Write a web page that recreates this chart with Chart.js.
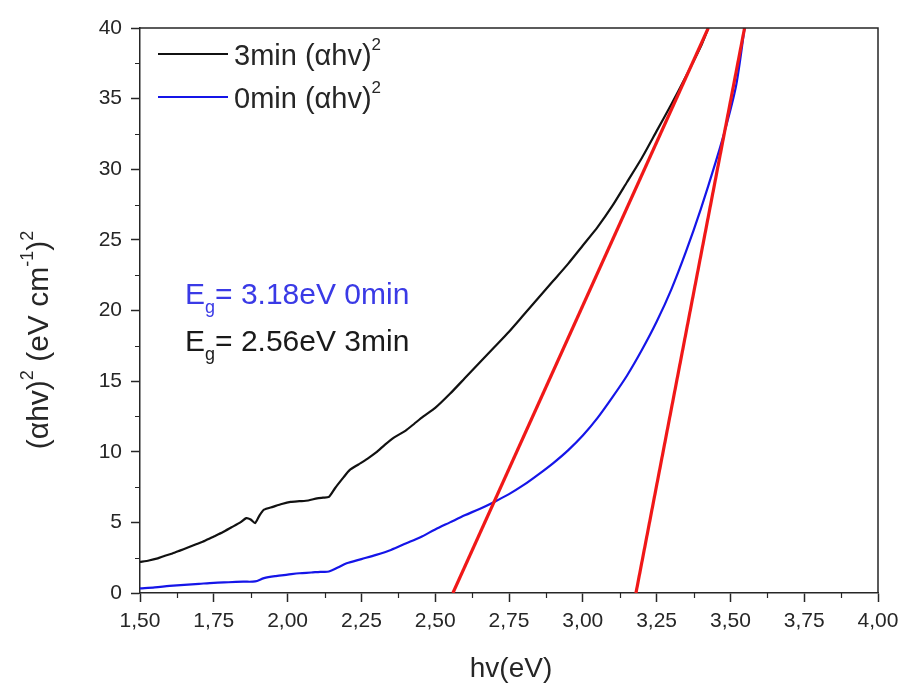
<!DOCTYPE html>
<html>
<head>
<meta charset="utf-8">
<script src="https://cdn.jsdelivr.net/npm/chart.js@4"></script>
<style>
html,body{margin:0;padding:0;background:#fff;}
canvas{display:block;}
</style>
</head>
<body>
<canvas id="c" width="906" height="687"></canvas>
<script>
// ---- data ----
const hv3min = [1.50,1.53,1.56,1.58,1.61,1.635,1.66,1.69,1.72,1.75,1.78,1.81,1.84,1.86,1.875,1.89,1.905,1.92,1.95,1.98,2.01,2.04,2.07,2.10,2.12,2.14,2.16,2.19,2.21,2.24,2.27,2.30,2.33,2.36,2.40,2.43,2.46,2.50,2.55,2.60,2.65,2.70,2.75,2.80,2.85,2.90,2.95,3.00,3.05,3.10,3.15,3.20,3.25,3.30,3.35,3.40,3.425];
const ahv3min = [2.2,2.3,2.45,2.6,2.8,3.0,3.2,3.45,3.7,4.0,4.3,4.65,5.0,5.3,5.2,4.95,5.5,5.9,6.1,6.3,6.45,6.5,6.55,6.7,6.75,6.8,7.4,8.2,8.7,9.1,9.5,9.95,10.5,11.0,11.5,12.0,12.5,13.1,14.1,15.2,16.3,17.4,18.5,19.7,20.9,22.1,23.3,24.6,25.9,27.4,29.1,30.8,32.7,34.6,36.6,38.7,40.0];

const hv0min = [1.50,1.55,1.60,1.65,1.70,1.75,1.80,1.85,1.89,1.92,1.96,2.00,2.04,2.08,2.11,2.14,2.17,2.20,2.25,2.30,2.35,2.40,2.45,2.50,2.55,2.60,2.65,2.70,2.75,2.80,2.85,2.90,2.95,3.00,3.05,3.10,3.15,3.20,3.25,3.30,3.35,3.40,3.45,3.49,3.52,3.548];
const ahv0min = [0.33,0.4,0.5,0.58,0.65,0.72,0.76,0.8,0.82,1.05,1.2,1.3,1.4,1.45,1.5,1.52,1.8,2.1,2.4,2.7,3.05,3.5,3.95,4.5,5.0,5.5,5.95,6.45,7.0,7.65,8.4,9.2,10.1,11.15,12.4,13.85,15.4,17.2,19.2,21.5,24.2,27.2,30.5,33.4,36.0,40.0];

const fit3minX = [2.56, 3.425];
const fit3minY = [0, 40];
const fit0minX = [3.18, 3.548];
const fit0minY = [0, 40];

const xTickLabels = ['1,50','1,75','2,00','2,25','2,50','2,75','3,00','3,25','3,50','3,75','4,00'];
const legendLabels = ['3min (αhv)', '0min (αhv)'];
const gapLabels = ['= 3.18eV 0min', '= 2.56eV 3min'];

const pts = (xs, ys) => xs.map((x, i) => ({x, y: ys[i]}));
const FONT = "'Liberation Sans', Arial, Helvetica, sans-serif";
const AXIS = '#262626';
const TXT = '#262626';

function drawSegs(ctx, segs, x, y, align) {
  // segs: [text, size, dy, color]
  let total = 0;
  segs.forEach(s => { ctx.font = s[1] + 'px ' + FONT; total += ctx.measureText(s[0]).width; });
  let cx = align === 'center' ? x - total / 2 : x;
  ctx.textBaseline = 'alphabetic';
  ctx.textAlign = 'left';
  segs.forEach(s => {
    ctx.font = s[1] + 'px ' + FONT;
    ctx.fillStyle = s[3];
    ctx.fillText(s[0], cx, y + s[2]);
    cx += ctx.measureText(s[0]).width;
  });
}

const decor = {
  id: 'decor',
  afterDraw(chart) {
    const ctx = chart.ctx;
    const a = chart.chartArea;
    const xs = chart.scales.x, ys = chart.scales.y;
    ctx.save();
    // frame top/right
    ctx.strokeStyle = AXIS;
    ctx.lineWidth = 1.5;
    ctx.beginPath();
    ctx.moveTo(a.left, a.top); ctx.lineTo(a.right, a.top); ctx.lineTo(a.right, a.bottom);
    ctx.stroke();
    // minor ticks
    ctx.lineWidth = 1.2;
    ctx.beginPath();
    for (let v = 1.625; v < 4; v += 0.25) {
      const px = Math.round(xs.getPixelForValue(v)) + 0.5;
      ctx.moveTo(px, a.bottom); ctx.lineTo(px, a.bottom + 5);
    }
    for (let v = 2.5; v < 40; v += 5) {
      const py = Math.round(ys.getPixelForValue(v)) + 0.5;
      ctx.moveTo(a.left, py); ctx.lineTo(a.left - 5, py);
    }
    ctx.stroke();
    // legend
    const legColors = ['#111111', '#1515e8'];
    legendLabels.forEach((t, i) => {
      const y = 54 + i * 43;
      ctx.strokeStyle = legColors[i];
      ctx.lineWidth = 2.2;
      ctx.beginPath(); ctx.moveTo(158, y); ctx.lineTo(228, y); ctx.stroke();
      drawSegs(ctx, [[t, 29, 0, TXT], ['2', 17, -15, TXT]], 234, y + 11, 'left');
    });
    // band gap annotations
    const gapColors = ['#3a3ae6', '#1a1a1a'];
    gapLabels.forEach((t, i) => {
      const y = 304 + i * 47;
      drawSegs(ctx, [['E', 30, 0, gapColors[i]], ['g', 18, 9, gapColors[i]], [t, 30, 0, gapColors[i]]], 185, y, 'left');
    });
    // x title
    drawSegs(ctx, [['hv(eV)', 28, 0, TXT]], 511, 677, 'center');
    // y title
    ctx.translate(48, 340);
    ctx.rotate(-Math.PI / 2);
    drawSegs(ctx, [['(αhv)', 30, 0, TXT], ['2', 18, -15, TXT], [' (eV cm', 30, 0, TXT], ['-1', 18, -15, TXT], [')', 30, 0, TXT], ['2', 18, -15, TXT]], 0, 0, 'center');
    ctx.restore();
  }
};

new Chart(document.getElementById('c'), {
  type: 'line',
  data: {
    datasets: [
      { data: pts(fit3minX, fit3minY), borderColor: '#f01818', borderWidth: 3.2, pointRadius: 0, tension: 0 },
      { data: pts(fit0minX, fit0minY), borderColor: '#f01818', borderWidth: 3.2, pointRadius: 0, tension: 0 },
      { data: pts(hv3min, ahv3min), borderColor: '#111111', borderWidth: 2.2, pointRadius: 0, tension: 0.2 },
      { data: pts(hv0min, ahv0min), borderColor: '#1515e8', borderWidth: 2.2, pointRadius: 0, tension: 0.3 }
    ]
  },
  options: {
    responsive: false,
    animation: false,
    devicePixelRatio: 1,
    layout: { padding: { left: 0, top: 28, right: 28, bottom: 0 } },
    plugins: { legend: { display: false }, tooltip: { enabled: false } },
    scales: {
      x: {
        type: 'linear', min: 1.5, max: 4.0,
        afterFit: s => { s.height = 94; },
        ticks: {
          stepSize: 0.25, autoSkip: false, maxRotation: 0, padding: 7,
          color: TXT, font: { family: FONT, size: 21 },
          callback: (v) => xTickLabels[Math.round((v - 1.5) / 0.25)]
        },
        grid: { display: true, drawOnChartArea: false, drawTicks: true, tickLength: 9, tickColor: AXIS, tickWidth: 1.5 },
        border: { display: true, color: AXIS, width: 1.5 }
      },
      y: {
        min: 0, max: 40,
        afterFit: s => { s.width = 140; },
        ticks: {
          stepSize: 5, padding: 9,
          color: TXT, font: { family: FONT, size: 21 }
        },
        grid: { display: true, drawOnChartArea: false, drawTicks: true, tickLength: 9, tickColor: AXIS, tickWidth: 1.5 },
        border: { display: true, color: AXIS, width: 1.5 }
      }
    }
  },
  plugins: [decor]
});
</script>
</body>
</html>
